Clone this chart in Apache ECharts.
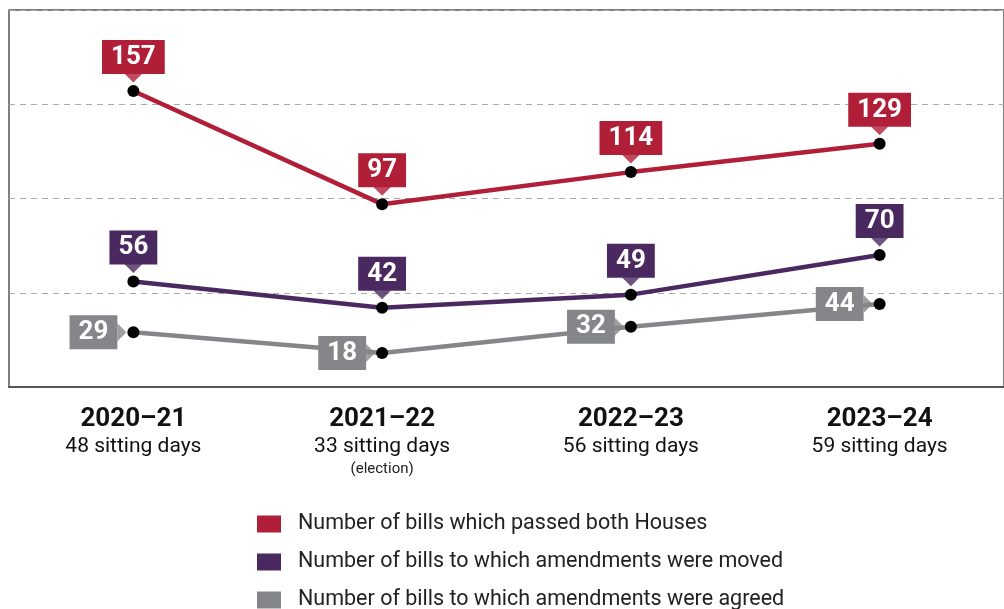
<!DOCTYPE html>
<html>
<head>
<meta charset="utf-8">
<script src="https://cdn.jsdelivr.net/npm/echarts@6/dist/echarts.min.js"></script>
<style>
  html, body { margin: 0; padding: 0; background: #fff; }
  #chart { width: 1004px; height: 609px; }
</style>
</head>
<body>
<div id="chart"></div>
<script>
var years = ['2020\u201321', '2021\u201322', '2022\u201323', '2023\u201324'];
var sittingDays = ['48 sitting days', '33 sitting days', '56 sitting days', '59 sitting days'];
var notes = ['', '(election)', '', ''];

var passedName = 'Number of bills which passed both Houses';
var movedName = 'Number of bills to which amendments were moved';
var agreedName = 'Number of bills to which amendments were agreed';

var passed = [157, 97, 114, 129];
var moved = [56, 42, 49, 70];
var agreed = [29, 18, 32, 44];

var RED = '#b01e37';
var PURPLE = '#4a2860';
var GREY = '#858689';

var downPointer = 'path://M0,0 L18,0 L9,9 Z';
var rightPointer = 'path://M0,0 L9,9 L0,18 Z';

function lineSeries(name, data, color, pos) {
    return {
        name: name,
        type: 'line',
        data: data,
        z: 3,
        symbol: 'circle',
        symbolSize: 12,
        itemStyle: { color: '#000' },
        lineStyle: { color: color, width: 4.5 },
        label: {
            show: true,
            position: pos,
            distance: pos === 'top' ? 11 : 10,
            color: '#fff',
            fontFamily: 'Roboto',
            fontWeight: 'bold',
            fontSize: 26,
            lineHeight: 27,
            backgroundColor: color,
            padding: [4, 9, 3, 9]
        }
    };
}

function pointerSeries(data, color, pos) {
    return {
        type: 'scatter',
        data: data,
        silent: true,
        z: 2,
        symbol: pos === 'top' ? downPointer : rightPointer,
        symbolSize: pos === 'top' ? [18, 9] : [9, 18],
        symbolOffset: pos === 'top' ? [0, -13] : [-11.5, 0],
        itemStyle: { color: color }
    };
}

// one legend box per row, so the rows never wrap into columns
function legendRow(name, color, top) {
    return {
        data: [{ name: name, itemStyle: { color: color } }],
        left: 257,
        top: top,
        padding: 0,
        icon: 'rect',
        itemWidth: 24,
        itemHeight: 17,
        selectedMode: false,
        textStyle: {
            fontFamily: 'Roboto',
            fontSize: 21.5,
            color: '#222',
            padding: [0, 0, 0, 12]
        }
    };
}

var myChart = echarts.init(document.getElementById('chart'), null, {renderer: 'canvas'});

option = {
    animation: false,
    color: [RED, PURPLE, GREY],
    grid: {
        left: 9,
        top: 10,
        width: 1003,
        height: 377,
        show: true,
        borderColor: '#555',
        borderWidth: 1.5
    },
    legend: [
        legendRow(passedName, RED, 513),
        legendRow(movedName, PURPLE, 551),
        legendRow(agreedName, GREY, 589)
    ],
    xAxis: {
        type: 'category',
        data: years,
        boundaryGap: true,
        axisLine: { lineStyle: { color: '#555', width: 2 } },
        axisTick: { inside: true, length: 10, lineStyle: { color: '#555', width: 2 } },
        axisLabel: {
            margin: 17,
            interval: 0,
            formatter: function (value, idx) {
                var s = '{a|' + value + '}\n{b|' + sittingDays[idx] + '}';
                if (notes[idx]) {
                    s += '\n{c|' + notes[idx] + '}';
                }
                return s;
            },
            rich: {
                a: { fontFamily: 'Roboto', fontWeight: 'bold', fontSize: 26, lineHeight: 30, color: '#111' },
                b: { fontFamily: 'Roboto', fontSize: 21, lineHeight: 26, color: '#111' },
                c: { fontFamily: 'Roboto', fontSize: 15, lineHeight: 19, color: '#222' }
            }
        }
    },
    yAxis: {
        type: 'value',
        min: 0,
        max: 200,
        interval: 50,
        axisLine: { show: false },
        axisTick: { show: false },
        axisLabel: { show: false },
        splitLine: { lineStyle: { color: '#aaa', type: [6, 5], width: 1.2 } }
    },
    series: [
        lineSeries(passedName, passed, RED, 'top'),
        pointerSeries(passed, RED, 'top'),
        lineSeries(movedName, moved, PURPLE, 'top'),
        pointerSeries(moved, PURPLE, 'top'),
        lineSeries(agreedName, agreed, GREY, 'left'),
        pointerSeries(agreed, GREY, 'left')
    ]
};

myChart.setOption(option);
</script>
</body>
</html>
